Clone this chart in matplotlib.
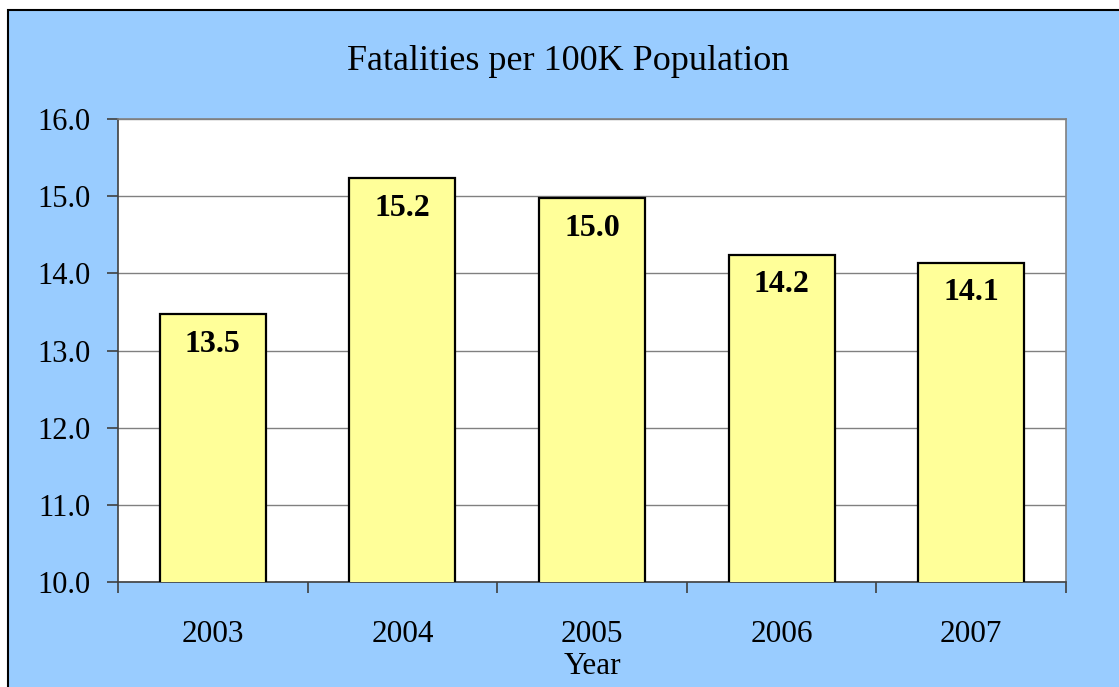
import matplotlib
matplotlib.use("Agg")
import matplotlib.pyplot as plt
from matplotlib.patches import Rectangle

years = ["2003", "2004", "2005", "2006", "2007"]
values = [13.47, 15.23, 14.97, 14.24, 14.14]
labels = ["13.5", "15.2", "15.0", "14.2", "14.1"]
yticks = [10.0, 11.0, 12.0, 13.0, 14.0, 15.0, 16.0]

plt.rcParams['font.family'] = ['Liberation Serif', 'DejaVu Serif']

fig = plt.figure(figsize=(11.19, 6.87), dpi=100)
fig.patch.set_facecolor('white')
bg = Rectangle((8/1119, -0.01), 1.02, (687-10)/687 + 0.01, transform=fig.transFigure,
               facecolor='#99CCFF', edgecolor='black', linewidth=1.5, zorder=-10)
fig.patches.append(bg)

ax = fig.add_axes([118/1119, (687-582)/687, (1066-118)/1119, (582-119)/687])
ax.set_facecolor('white')
x = list(range(len(years)))
bars = ax.bar(x, values, width=0.56, color='#FFFF99', edgecolor='black', linewidth=1.6, zorder=3)
ax.set_ylim(10, 16)
ax.set_xlim(-0.5, len(years) - 0.5)
ax.set_yticks(yticks)
ax.set_yticklabels([f"{t:.1f}" for t in yticks], fontsize=22)
ax.set_xticks(x)
ax.set_xticklabels(years, fontsize=22.5)
ax.set_xticks([i - 0.5 for i in range(len(years) + 1)], minor=True)
ax.tick_params(axis='x', which='major', length=0, pad=27)
ax.tick_params(axis='x', which='minor', length=8, width=1.2, color='#404040', direction='out')
ax.tick_params(axis='y', length=8, width=1.2, color='#404040', direction='out', pad=12)
ax.yaxis.grid(True, color='#808080', linewidth=1, zorder=0)
ax.set_axisbelow(True)
for s in ['top', 'right']:
    ax.spines[s].set_color('#808080')
    ax.spines[s].set_linewidth(1.2)
for s in ['left', 'bottom']:
    ax.spines[s].set_color('#404040')
    ax.spines[s].set_linewidth(1.2)

for xi, v, lab in zip(x, values, labels):
    ax.annotate(lab, (xi, v), xytext=(0, -11), textcoords='offset points',
                ha='center', va='top', fontsize=23, fontweight='bold', zorder=4)

ax.set_xlabel("Year", fontsize=22.5, labelpad=2.5)
fig.text(568/1119, 1 - 62/687, "Fatalities per 100K Population", ha='center', va='center', fontsize=26)

fig.savefig("out.png", dpi=100)
